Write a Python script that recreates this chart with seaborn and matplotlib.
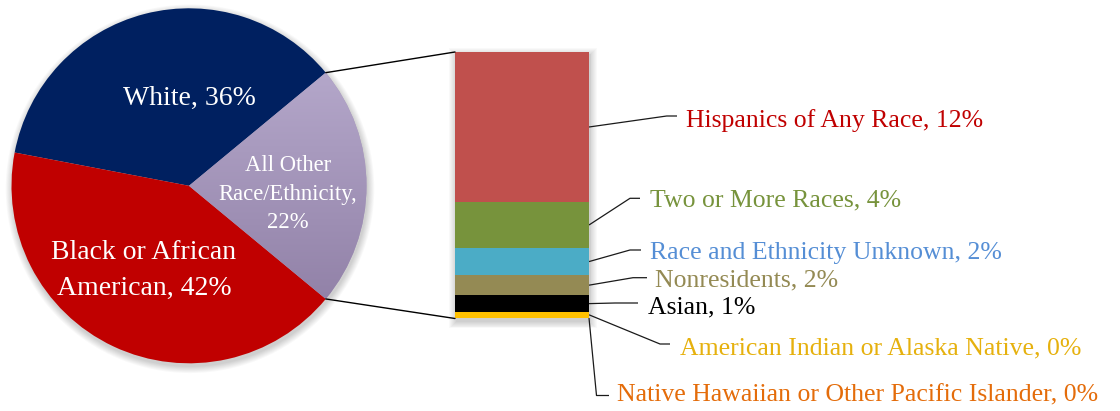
import numpy as np
import matplotlib
matplotlib.use("Agg")
import matplotlib.pyplot as plt
from matplotlib.colors import LinearSegmentedColormap
from matplotlib.patches import Circle, Rectangle, ConnectionPatch
import seaborn as sns

sns.set_theme(style="white")
plt.rcParams["font.family"] = ["Liberation Serif", "DejaVu Serif"]

# --- data ---
pie_groups = ["All Other Race/Ethnicity", "White", "Black or African American"]
pie_values = [22, 36, 42]
pie_colors = ["#A898BC", "#002060", "#C00000"]
pie_label_lines = [["All Other", "Race/Ethnicity,"], ["White,"], ["Black or African", "American,"]]

bar_groups = ["Hispanics of Any Race", "Two or More Races", "Race and Ethnicity Unknown",
              "Nonresidents", "Asian", "American Indian or Alaska Native",
              "Native Hawaiian or Other Pacific Islander"]
bar_values = [12.4, 3.8, 2.25, 1.65, 1.4, 0.45, 0.08]
bar_colors = ["#C0504D", "#77933C", "#4BACC6", "#948A54", "#000000", "#FFC000", "#F79646"]
text_colors = ["#C00000", "#77933C", "#558ED5", "#948A54", "#000000", "#E6B10E", "#E46C0A"]

# --- layout (pixels, measured from top-left) ---
W, H = 1120, 411


def fy(y):
    return H - y


# pie label anchors: (x center, first baseline, line step)
pie_text_pos = [(288, 171, 28.7), (189.5, 105, 0), (144, 259, 36)]
pie_text_size = [16.3, 20, 20]

# right labels: (elbow x, line y, line end x, text x, baseline y)
label_pos = [
    (666.7, 116, 677, 686, 126.7),
    (630, 198.3, 640, 650, 206.7),
    (630, 250, 641, 650, 259),
    (633, 277.7, 647, 655, 286.7),
    (615, 303, 638, 648, 313.3),
    (660, 344, 670, 680, 354.3),
    (596.5, 395.5, 609, 617, 401.7),
]

fig = plt.figure(figsize=(W / 100, H / 100), dpi=100)
fig.patch.set_facecolor("white")
ax = fig.add_axes([0, 0, 1, 1])

# --- pie ---
cx, cy, r = 189, fy(185.8), 177.5
start = -pie_values[0] / sum(pie_values) * 180
wedges, _ = ax.pie(pie_values, colors=pie_colors, startangle=start, counterclock=True,
                   center=(cx, cy), radius=r, frame=True, wedgeprops=dict(linewidth=0))

# soft shadow under the pie
for i in range(8):
    ax.add_patch(Circle((cx + 1, cy - 3), r + 0.5 + i * 0.9, color="black",
                        alpha=0.025, lw=0, zorder=0.5))

# vertical gradient on the "all other" slice
w = wedges[0]
t1, t2 = np.deg2rad(w.theta1), np.deg2rad(w.theta2)
grad = np.linspace(0, 1, 256).reshape(-1, 1)
cmap = LinearSegmentedColormap.from_list("other", ["#B4A7CA", "#9282A8"])
im = ax.imshow(grad, cmap=cmap, origin="upper", aspect="auto",
               extent=(cx, cx + r, cy + r * np.sin(t1), cy + r * np.sin(t2)),
               zorder=w.get_zorder() + 0.1)
im.set_clip_path(w)

for lines, v, (tx, ty, step), fs in zip(pie_label_lines, pie_values, pie_text_pos, pie_text_size):
    lines = list(lines)
    if len(lines) == 2 and step < 30:
        lines = lines + [f"{v}%"]
    else:
        lines[-1] = f"{lines[-1]} {v}%"
    for k, line in enumerate(lines):
        ax.text(tx, fy(ty + k * step), line, ha="center", va="baseline",
                color="white", fontsize=fs, zorder=5)

ax.set_xlim(0, W)
ax.set_ylim(0, H)
ax.axis("off")

# --- stacked bar ---
bar_left, bar_right, bar_top, bar_bot = 455, 589, 52, 318.5
bx = fig.add_axes([bar_left / W, fy(bar_bot) / H, (bar_right - bar_left) / W,
                   (bar_bot - bar_top) / H])
bottoms = np.concatenate([[0], np.cumsum(bar_values)[:-1]])
bx.bar(np.zeros(len(bar_values)), bar_values, bottom=bottoms, width=1,
       color=bar_colors, linewidth=0)
bx.set_xlim(-0.5, 0.5)
bx.set_ylim(sum(bar_values), 0)
bx.axis("off")

# soft shadow behind the bar
for i in range(8):
    g = 0.5 + i * 0.9
    ax.add_patch(Rectangle((bar_left - g + 1, fy(bar_bot) - 3 - g),
                           bar_right - bar_left + 2 * g, bar_bot - bar_top + 2 * g,
                           color="black", alpha=0.025, lw=0, zorder=0.5))

# pie -> bar connectors
for theta, corner in [(t2, (0, 1)), (t1, (0, 0))]:
    con = ConnectionPatch(xyA=(cx + r * np.cos(theta), cy + r * np.sin(theta)), coordsA=ax.transData,
                          xyB=corner, coordsB=bx.transAxes, color="black", lw=1.0)
    fig.add_artist(con)

# leader lines and labels
to_ax = ax.transData.inverted()
for name, v, bot, col, (ex, ly, endx, tx, base) in zip(bar_groups, bar_values, bottoms,
                                                       text_colors, label_pos):
    axp, ayp = to_ax.transform(bx.transData.transform((0.5, bot + v / 2)))
    ax.plot([axp, ex, endx], [ayp, fy(ly), fy(ly)], color="#1a1a1a", lw=0.9,
            solid_capstyle="butt", zorder=3)
    ax.text(tx, fy(base), f"{name}, {v:.0f}%", color=col, fontsize=18.5,
            ha="left", va="baseline")

fig.savefig("out.png", dpi=100, facecolor="white")
